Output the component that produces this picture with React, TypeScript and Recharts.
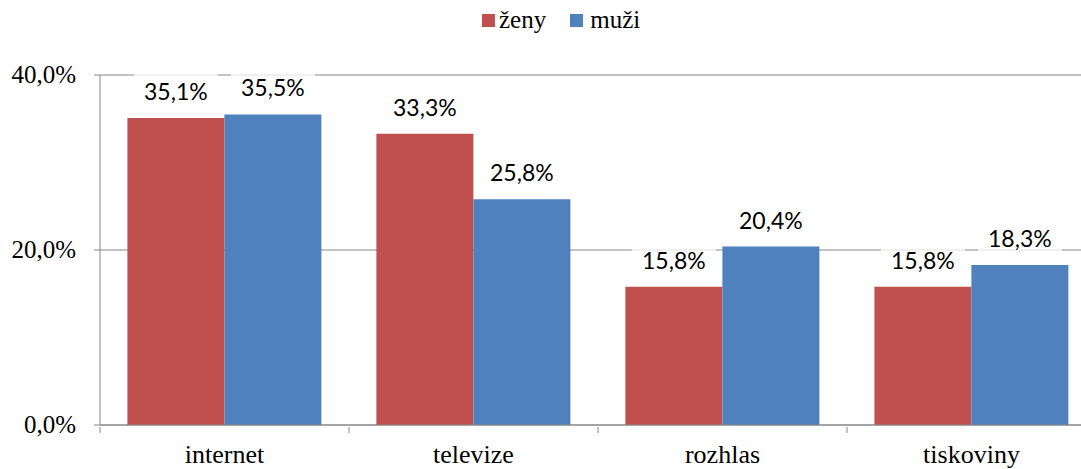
import { BarChart, Bar, XAxis, YAxis, CartesianGrid, LabelList } from 'recharts';

const categories = ['internet', 'televize', 'rozhlas', 'tiskoviny'];
const zeny = [35.1, 33.3, 15.8, 15.8];
const muzi = [35.5, 25.8, 20.4, 18.3];
const yTicks = [0, 20, 40];

const data = categories.map((name, i) => ({ name, zeny: zeny[i], muzi: muzi[i] }));

const CHART_W = 1110;
const CHART_H = 469;
const Y_W = 100;
const M_RIGHT = 14;
const BAND = (CHART_W - Y_W - M_RIGHT) / categories.length;

const RED = '#C0504D';
const BLUE = '#4F81BD';
const AXIS = '#868686';
const serif = 'Liberation Serif';
const labelFont = 'Lato';

const fmt = (v: number) => `${v.toFixed(1).replace('.', ',')}%`;

const XTick = (props: any) => {
  const { x, y, payload, index } = props;
  const left = x - BAND / 2;
  return (
    <g>
      <line x1={left} y1={y - 6} x2={left} y2={y} stroke={AXIS} />
      {index === categories.length - 1 && (
        <line x1={x + BAND / 2} y1={y - 6} x2={x + BAND / 2} y2={y} stroke={AXIS} />
      )}
      <text x={x} y={y + 30} textAnchor="middle" fontFamily={serif} fontSize={26} fill="#000">
        {payload.value}
      </text>
    </g>
  );
};

const ValueLabel = (props: any) => {
  const { x, y, width, value } = props;
  const cx = x + width / 2;
  const cy = y - 26;
  return (
    <g>
      <rect x={cx - 42} y={cy - 18} width={84} height={36} fill="#fff" fillOpacity={0.75} />
      <text x={cx} y={cy + 8} textAnchor="middle" fontFamily={labelFont} fontSize={23} fill="#000">
        {fmt(value)}
      </text>
    </g>
  );
};

const YTick = (props: any) => {
  const { x, y, payload } = props;
  return (
    <text x={x} y={y + 8} textAnchor="end" fontFamily={serif} fontSize={25} fill="#000">
      {fmt(payload.value)}
    </text>
  );
};

export default function App() {
  return (
    <div style={{ position: 'absolute', top: 0, left: 0, width: 1081, height: 469, overflow: 'hidden', background: '#fff' }}>
      <div
        style={{
          position: 'absolute',
          top: 6,
          left: 482,
          display: 'flex',
          alignItems: 'center',
          fontFamily: serif,
          fontSize: 25,
          color: '#000',
          zIndex: 2,
        }}
      >
        <span style={{ width: 13, height: 13, background: RED, display: 'inline-block', marginRight: 4 }} />
        <span style={{ marginRight: 24 }}>ženy</span>
        <span style={{ width: 13, height: 13, background: BLUE, display: 'inline-block', marginRight: 7 }} />
        <span>muži</span>
      </div>
      <BarChart
        width={CHART_W}
        height={CHART_H}
        data={data}
        margin={{ top: 75, right: M_RIGHT, left: 0, bottom: 0 }}
        barCategoryGap="11%"
        barGap={0}
      >
        <CartesianGrid vertical={false} stroke={AXIS} />
        <XAxis
          dataKey="name"
          height={44}
          axisLine={{ stroke: AXIS }}
          tickLine={false}
          tick={<XTick />}
          interval={0}
        />
        <YAxis
          width={Y_W}
          domain={[0, 40]}
          ticks={yTicks}
          axisLine={{ stroke: AXIS }}
          tickLine={{ stroke: AXIS }}
          tickMargin={18}
          tick={<YTick />}
        />
        <Bar dataKey="zeny" name="ženy" fill={RED} isAnimationActive={false}>
          <LabelList dataKey="zeny" content={<ValueLabel />} />
        </Bar>
        <Bar dataKey="muzi" name="muži" fill={BLUE} isAnimationActive={false}>
          <LabelList dataKey="muzi" content={<ValueLabel />} />
        </Bar>
      </BarChart>
    </div>
  );
}
